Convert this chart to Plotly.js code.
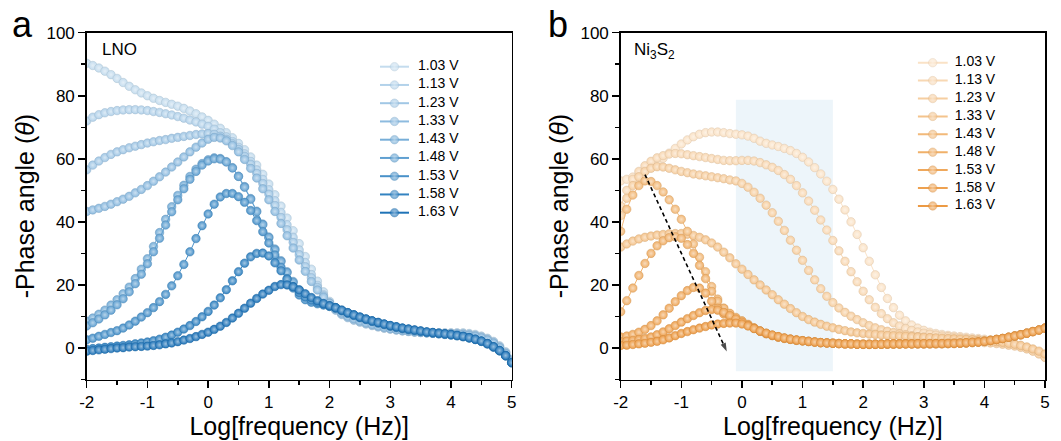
<!DOCTYPE html>
<html><head><meta charset="utf-8">
<script src="https://cdn.plot.ly/plotly-3.0.1.min.js"></script>
<style>html,body{margin:0;padding:0;background:#fff;} #chart{width:1061px;height:441px;}</style>
</head><body><div id="chart"></div>
<script>
// ---------------- data ----------------
const logFreq = [-2.0,-1.9,-1.8,-1.7,-1.6,-1.5,-1.4,-1.3,-1.2,-1.1,
 -1.0,-0.9,-0.8,-0.7,-0.6,-0.5,-0.4,-0.3,-0.2,-0.1,
 0.0,0.1,0.2,0.3,0.4,0.5,0.6,0.7,0.8,0.9,
 1.0,1.1,1.2,1.3,1.4,1.5,1.6,1.7,1.8,1.9,
 2.0,2.1,2.2,2.3,2.4,2.5,2.6,2.7,2.8,2.9,
 3.0,3.1,3.2,3.3,3.4,3.5,3.6,3.7,3.8,3.9,
 4.0,4.1,4.2,4.3,4.4,4.5,4.6,4.7,4.8,4.9,5.0];

const voltages = ['1.03 V','1.13 V','1.23 V','1.33 V','1.43 V','1.48 V','1.53 V','1.58 V','1.63 V'];

// LNO panel (a)
const lno103 = [90.3,89.6,88.8,87.8,86.7,85.5,84.2,83.0,81.9,80.9, 80.0,79.2,78.5,77.9,77.3,76.7,76.0,75.2,74.3,73.3, 72.2,71.0,69.7,68.3,66.7,64.9,62.9,60.6,58.0,55.1, 52.0,48.6,45.0,41.2,37.2,33.1,29.0,25.0,21.2,17.8, 14.8, 12.3,10.8,9.8,9.0,8.3,7.7,7.2,6.7,6.3,6.0, 5.7,5.5,5.3,5.1,5.0,4.9,4.8,4.8,4.8,4.8, 4.8,4.8,4.6,4.3,3.8,3.1,2.1,0.7,-1.2,-3.6];
const lno113 = [72.0,73.2,74.0,74.6,75.0,75.3,75.5,75.6,75.6,75.5, 75.3,75.0,74.7,74.3,73.9,73.4,72.9,72.3,71.7,71.0, 70.3,69.4,68.3,67.0,65.5,63.7,61.6,59.2,56.5,53.5, 50.2,46.7,43.0,39.1,35.1,31.1,27.1,23.3,19.9,16.9, 14.4, 12.0,10.6,9.6,8.8,8.2,7.6,7.1,6.7,6.3,6.0, 5.7,5.4,5.2,5.0,4.9,4.8,4.7,4.7,4.7,4.7, 4.7,4.6,4.4,4.1,3.6,2.9,1.9,0.5,-1.4,-3.8];
const lno123 = [56.5,58.0,59.3,60.4,61.4,62.2,62.9,63.5,64.0,64.5, 65.0,65.4,65.8,66.1,66.5,66.8,67.1,67.4,67.7,67.9, 68.0,67.8,67.2,66.2,64.8,63.0,60.8,58.3,55.4,52.2, 48.8,45.2,41.4,37.5,33.5,29.6,25.8,22.3,19.2,16.5, 14.2, 12.1,10.8,9.8,9.0,8.4,7.8,7.3,6.8,6.4,6.1, 5.8,5.5,5.3,5.1,4.9,4.8,4.7,4.6,4.6,4.6, 4.5,4.4,4.2,3.9,3.4,2.7,1.7,0.3,-1.6,-4.0];
const lno133 = [43.3,43.8,44.3,44.9,45.6,46.4,47.2,48.1,49.2,50.3, 51.5,52.9,54.3,55.8,57.4,59.0,60.6,62.2,63.7,65.0, 66.2,66.8,66.6,65.7,64.2,62.2,59.8,57.0,53.9,50.5, 47.0,43.3,39.5,35.6,31.7,27.9,24.3,21.1,18.4,16.1, 14.2, 12.4,11.1,10.1,9.3,8.6,8.0,7.5,7.0,6.6,6.2, 5.9,5.6,5.4,5.2,5.0,4.8,4.7,4.6,4.5,4.5, 4.4,4.3,4.0,3.7,3.2,2.5,1.5,0.1,-1.8,-4.2];
const lno143 = [8.5,9.5,10.7,12.0,13.6,15.3,17.2,19.3,22.0,25.0, 28.3,32.2,36.6,40.8,44.8,48.4,51.6,54.4,56.7,58.5, 59.7,60.3,60.1,59.1,57.2,54.5,51.2,47.4,43.4,39.3, 35.2,31.4,27.7,24.2,21.1,18.5,16.5,15.2,14.4,13.8, 13.2, 12.6,11.8,11.0,10.3,9.6,9.0,8.4,7.9,7.4,6.9, 6.5,6.1,5.8,5.5,5.2,4.9,4.7,4.5,4.3,4.1, 3.9,3.6,3.2,2.7,2.1,1.3,0.3,-0.9,-2.5,-4.7];
const lno148 = [7.0,8.0,9.2,10.5,12.0,13.7,15.6,17.8,20.4,23.4, 26.7,30.5,34.8,39.0,43.2,47.0,50.5,53.5,56.0,58.0, 59.3,60.0,59.9,59.0,57.1,54.4,51.0,47.2,43.2,39.1, 35.0,31.1,27.4,23.9,20.8,18.2,16.3,15.1,14.4,13.8, 13.2, 12.6,11.8,11.0,10.3,9.6,9.0,8.4,7.9,7.4,6.9, 6.5,6.1,5.8,5.5,5.2,4.9,4.7,4.5,4.3,4.1, 3.9,3.6,3.2,2.7,2.1,1.3,0.3,-0.9,-2.5,-4.7];
const lno153 = [2.6,3.1,3.7,4.3,4.9,5.5,6.3,7.3,8.5,9.8, 11.2,12.8,14.7,17.0,19.7,22.9,26.5,30.5,34.7,38.8, 42.5,45.6,47.9,49.0,49.0,48.0,46.2,43.6,40.4,36.9, 33.3,29.5,25.6,22.0,19.0,16.8,15.3,14.5,14.0,13.6, 13.2, 12.7,11.9,11.1,10.4,9.7,9.1,8.5,8.0,7.5,7.0, 6.6,6.2,5.9,5.6,5.3,5.0,4.8,4.6,4.4,4.2, 3.9,3.6,3.2,2.7,2.1,1.3,0.3,-0.9,-2.5,-4.7];
const lno158 = [-0.4,-0.2,0.0,0.2,0.4,0.6,0.8,1.0,1.3,1.6, 1.9,2.3,2.8,3.4,4.1,5.0,6.0,7.1,8.4,9.9, 11.6,13.6,15.9,18.5,21.3,24.2,26.9,28.9,30.0,30.1, 29.2,27.0,24.5,21.8,19.5,17.6,16.2,15.2,14.5,13.9, 13.4, 12.8,12.0,11.2,10.5,9.8,9.2,8.6,8.1,7.6,7.1, 6.7,6.3,6.0,5.7,5.4,5.1,4.9,4.7,4.5,4.3, 4.0,3.7,3.3,2.8,2.2,1.4,0.4,-0.8,-2.4,-4.6];
const lno163 = [-1.0,-0.8,-0.6,-0.4,-0.2,0.0,0.1,0.3,0.4,0.5, 0.6,0.8,1.0,1.3,1.6,2.0,2.5,3.0,3.6,4.3, 5.0,5.9,6.9,8.1,9.5,11.0,12.6,14.2,15.7,17.1, 18.3,19.5,20.1,20.0,19.4,18.4,17.2,16.0,15.0,14.1, 13.4, 12.8,12.0,11.2,10.5,9.8,9.2,8.6,8.1,7.6,7.1, 6.7,6.3,6.0,5.7,5.4,5.1,4.9,4.7,4.5,4.3, 4.0,3.7,3.3,2.8,2.2,1.4,0.4,-0.8,-2.4,-4.6];

// Ni3S2 panel (b)
const ni103 = [53.0,53.5,54.2,55.0,56.0,57.3,58.7,60.2,61.8,63.3, 64.7,66.0,67.0,67.8,68.3,68.5,68.5,68.3,68.0,67.8, 67.6,67.2,66.5,65.6,64.9,64.4,63.9,63.3,62.6,61.7, 60.5,59.0,57.2,55.2,52.9,50.3,47.2,43.8,40.0,36.0, 31.8, 27.5,23.2,19.2,15.7,12.8,10.4,8.6,7.3,6.3,5.6, 5.0,4.6,4.3,4.0,3.8,3.6,3.4,3.2,3.0,2.8, 2.6,2.3,2.0,1.7,1.3,0.8,0.2,-0.6,-1.5,-2.6];
const ni113 = [45.0,50.0,53.5,56.0,57.8,59.2,60.3,61.0,61.5,61.7, 61.6,61.3,61.0,60.7,60.4,60.1,59.8,59.5,59.4,59.4, 59.5,59.5,59.3,58.8,58.1,57.3,56.3,55.0,53.5,51.5, 49.2,46.6,43.7,40.6,37.4,34.1,30.8,27.5,24.2,21.0, 18.0, 15.3,12.9,10.9,9.3,8.0,7.0,6.2,5.6,5.1,4.7, 4.4,4.1,3.8,3.6,3.4,3.2,3.0,2.8,2.6,2.4, 2.2,2.0,1.7,1.4,1.0,0.5,-0.1,-0.8,-1.7,-2.8];
const ni123 = [42.0,47.5,51.5,54.3,56.0,57.0,57.5,57.4,57.0,56.5, 56.0,55.6,55.2,54.9,54.6,54.3,54.0,53.7,53.3,53.0, 52.2,51.0,49.4,47.5,45.3,42.9,40.2,37.3,34.2,31.0, 27.8,24.6,21.6,18.8,16.4,14.4,12.7,11.3,10.1,9.0, 8.0, 7.1,6.4,5.8,5.3,4.9,4.5,4.2,3.9,3.6,3.4, 3.2,3.0,2.8,2.6,2.4,2.2,2.0,1.9,1.8,1.7, 1.6,1.4,1.2,0.9,0.6,0.2,-0.3,-1.0,-1.9,-3.0];
const ni133 = [32.0,33.0,33.9,34.6,35.1,35.5,35.8,36.0,36.2,36.3, 36.3,36.1,35.7,35.1,34.3,33.3,32.0,30.4,28.6,26.7, 25.0,23.3,21.6,20.0,18.4,16.9,15.3,13.9,12.5,11.2, 10.0,9.0,8.2,7.5,6.9,6.4,5.9,5.5,5.1,4.8, 4.6, 4.4,4.3,4.1,4.0,3.9,3.8,3.7,3.6,3.5,3.4, 3.3,3.2,3.1,3.0,2.9,2.8,2.7,2.6,2.5,2.4, 2.2,2.0,1.8,1.5,1.2,0.8,0.3,-0.3,-1.0,-1.9];
const ni143 = [37.0,44.0,48.5,51.5,53.0,52.8,51.5,49.5,47.0,44.0, 40.8,37.0,33.0,28.8,24.2,19.5,15.5,12.6,10.7,9.4, 8.5,7.4,6.3,5.3,4.5,3.9,3.4,3.0,2.7,2.4, 2.2,2.0,1.8,1.7,1.6,1.5,1.4,1.3,1.3,1.2, 1.1, 1.1,1.2,1.2,1.2,1.2,1.3,1.3,1.3,1.3,1.3, 1.3,1.3,1.4,1.4,1.4,1.5,1.6,1.7,1.9,2.1, 2.4,2.7,3.0,3.4,3.8,4.2,4.7,5.2,5.7,6.3];
const ni148 = [11.5,15.0,19.0,23.0,26.8,30.0,32.4,34.0,35.0,35.3, 34.8,32.8,30.0,26.2,22.0,18.0,14.8,12.6,11.0,9.7, 8.6,7.5,6.4,5.4,4.6,4.0,3.5,3.1,2.8,2.5, 2.3,2.1,1.9,1.7,1.6,1.5,1.4,1.3,1.3,1.2, 1.2, 1.1,1.1,1.2,1.2,1.2,1.2,1.3,1.3,1.3,1.3, 1.3,1.3,1.3,1.4,1.4,1.5,1.6,1.7,1.9,2.1, 2.4,2.7,3.0,3.4,3.8,4.2,4.7,5.2,5.7,6.3];
const ni153 = [3.5,3.8,4.3,5.0,5.9,7.1,8.6,10.5,12.6,14.7, 16.6,18.2,19.2,19.0,17.4,14.8,12.6,10.8,9.6,8.7, 8.0,7.1,6.2,5.3,4.6,4.0,3.5,3.1,2.8,2.5, 2.3,2.1,1.9,1.7,1.6,1.5,1.4,1.3,1.3,1.2, 1.2, 1.2,1.2,1.2,1.2,1.3,1.3,1.3,1.3,1.3,1.3, 1.3,1.4,1.4,1.4,1.5,1.5,1.6,1.8,1.9,2.1, 2.4,2.7,3.0,3.4,3.8,4.2,4.7,5.2,5.7,6.3];
const ni158 = [2.0,2.2,2.4,2.7,3.0,3.5,4.2,5.1,6.1,7.1, 8.2,9.3,10.3,11.2,11.9,12.2,12.0,11.3,10.3,9.2, 8.2,7.2,6.2,5.3,4.6,4.0,3.5,3.1,2.8,2.5, 2.3,2.1,1.9,1.7,1.6,1.5,1.4,1.3,1.3,1.2, 1.2, 1.2,1.2,1.2,1.3,1.3,1.3,1.3,1.3,1.3,1.3, 1.4,1.4,1.4,1.4,1.5,1.5,1.6,1.8,1.9,2.1, 2.4,2.7,3.0,3.4,3.8,4.2,4.7,5.2,5.7,6.3];
const ni163 = [0.8,0.9,1.1,1.3,1.5,1.8,2.1,2.6,3.2,3.9, 4.6,5.2,5.8,6.3,6.8,7.3,7.6,7.8,7.9,7.9, 7.6,7.0,6.2,5.4,4.7,4.1,3.6,3.2,2.8,2.5, 2.3,2.1,1.9,1.7,1.6,1.5,1.4,1.3,1.3,1.2, 1.2, 1.2,1.2,1.2,1.3,1.3,1.3,1.3,1.3,1.4,1.4, 1.4,1.4,1.4,1.5,1.5,1.6,1.7,1.8,1.9,2.1, 2.4,2.7,3.0,3.4,3.8,4.2,4.7,5.2,5.7,6.3];

// ticks
const xTickVals = [-2,-1,0,1,2,3,4,5];
const xTickText = ['-2','-1','0','1','2','3','4','5'];
const yTickVals = [0,20,40,60,80,100];
const yTickText = ['0','20','40','60','80','100'];

// highlighted frequency window and trend arrow (panel b, data coordinates)
const bandLogF = [-0.1, 1.5];
const bandPhase = [-7.4, 78.7];
const arrowLogF = [-1.6, -0.25];
const arrowPhase = [55.0, -1.1];

// ---------------- styles ----------------
const FONT = 'Arial, "Liberation Sans", sans-serif';
const blues = ['#c4dcee','#b3d2ea','#a1c7e5','#8dbbdf','#77aed8','#60a0d1','#4991c9','#3383c1','#1f73b7'];
const oranges = ['#fae2c6','#f8d8b3','#f6cea0','#f4c38c','#f2b979','#f0b069','#efa85c','#eea150','#ec9a44'];
function mix(hex, f, target){
  const n = parseInt(hex.slice(1),16);
  const r = n>>16&255, g = n>>8&255, b = n&255;
  const m = c => Math.round(c + (target-c)*f);
  return 'rgb(' + m(r) + ',' + m(g) + ',' + m(b) + ')';
}
const MS = 8.5;

const lnoSeries = [lno103,lno113,lno123,lno133,lno143,lno148,lno153,lno158,lno163];
const niSeries = [ni103,ni113,ni123,ni133,ni143,ni148,ni153,ni158,ni163];

function beadMarker(c, size){
  return {color: c, size: size, line: {width: 0.5, color: mix(c, 0.12, 0)},
          gradient: {type: 'radial', color: mix(c, 0.55, 255)}};
}

const traces = [];
function addPanel(series, colors, xa, ya){
  series.forEach((ys, i) => {
    traces.push({
      x: logFreq, y: ys, xaxis: xa, yaxis: ya, type: 'scatter', mode: 'lines+markers',
      name: voltages[i], showlegend: false, hoverinfo: 'skip',
      line: {color: colors[i], width: 1},
      marker: beadMarker(colors[i], MS)
    });
  });
}
addPanel(lnoSeries, blues, 'x', 'y');
addPanel(niSeries, oranges, 'x2', 'y2');

// trend arrow (dashed) in panel b
traces.push({
  x: arrowLogF, y: arrowPhase, xaxis: 'x2', yaxis: 'y2', type: 'scatter', mode: 'lines+markers',
  showlegend: false, hoverinfo: 'skip',
  line: {color: '#000', width: 1.6, dash: '4px,3px'},
  marker: {symbol: 'arrow', size: [0, 9], angleref: 'previous', color: '#000', line: {width: 0}}
});

// legend blocks drawn on their own pixel-unit axes
const rowIdx = [0,1,2,3,4,5,6,7,8];
function addLegend(colors, xa, ya, lineLen, textX){
  rowIdx.forEach(i => {
    traces.push({
      x: [0, lineLen/2, lineLen], y: [i, i, i], xaxis: xa, yaxis: ya, type: 'scatter',
      mode: 'lines+markers', showlegend: false, hoverinfo: 'skip',
      line: {color: colors[i], width: 2},
      marker: Object.assign(beadMarker(colors[i], [0, MS, 0]))
    });
  });
  traces.push({
    x: rowIdx.map(() => textX), y: rowIdx, text: voltages, xaxis: xa, yaxis: ya,
    type: 'scatter', mode: 'text', textposition: 'middle right', showlegend: false,
    hoverinfo: 'skip', textfont: {family: FONT, size: 14, color: '#000'}
  });
}
addLegend(blues, 'x3', 'y3', 29, 38);
addLegend(oranges, 'x4', 'y4', 30, 37);

const W = 1061, H = 441;
const px = v => v / W, py = v => 1 - v / H;

function mainX(dom, anchor){
  return {
    domain: dom, anchor: anchor, range: [-2, 5], tickvals: xTickVals, ticktext: xTickText,
    showline: true, linecolor: '#000', linewidth: 1.5, mirror: true,
    ticks: 'outside', ticklen: 7, tickwidth: 1.5, tickcolor: '#000',
    minor: {ticks: 'outside', ticklen: 4, tickwidth: 1.5, tickcolor: '#000', tickvals: [-1.5,-0.5,0.5,1.5,2.5,3.5,4.5]},
    showgrid: false, zeroline: false, fixedrange: true,
    tickfont: {family: FONT, size: 17, color: '#000'},
    title: {text: 'Log[frequency (Hz)]', font: {family: FONT, size: 25, color: '#000'}, standoff: 3}
  };
}
function mainY(dom, anchor){
  return {
    domain: dom, anchor: anchor, range: [-10, 100], tickvals: yTickVals, ticktext: yTickText,
    showline: true, linecolor: '#000', linewidth: 1.5, mirror: true,
    ticks: 'outside', ticklen: 7, tickwidth: 1.5, tickcolor: '#000',
    minor: {ticks: 'outside', ticklen: 4, tickwidth: 1.5, tickcolor: '#000', tickvals: [-10,10,30,50,70,90]},
    showgrid: false, zeroline: false, fixedrange: true,
    tickfont: {family: FONT, size: 17, color: '#000'},
    title: {text: '-Phase angle (<i>θ</i>)', font: {family: FONT, size: 25, color: '#000'}, standoff: 4}
  };
}
const hidden = (dom, range, anchor) => ({domain: dom, range: range, anchor: anchor, visible: false, fixedrange: true});

const yDom = [py(379.5), py(32.7)];
const layout = {
  width: W, height: H, margin: {l: 0, r: 0, t: 0, b: 0},
  paper_bgcolor: '#fff', plot_bgcolor: 'rgba(0,0,0,0)', showlegend: false,
  font: {family: FONT, color: '#000'},
  xaxis: mainX([px(86.7), px(511.7)], 'y'),
  yaxis: mainY(yDom, 'x'),
  xaxis2: mainX([px(620.7), px(1045)], 'y2'),
  yaxis2: mainY(yDom, 'x2'),
  xaxis3: hidden([px(380), px(480)], [0, 100], 'y3'),
  yaxis3: hidden([py(222), py(57)], [(222-66.7)/18.25, (57-66.7)/18.25], 'x3'),
  xaxis4: hidden([px(917.7), px(1017.7)], [0, 100], 'y4'),
  yaxis4: hidden([py(218), py(53)], [(218-62.7)/17.9, (53-62.7)/17.9], 'x4'),
  shapes: [
    {type: 'rect', xref: 'x2', yref: 'y2', x0: bandLogF[0], x1: bandLogF[1], y0: bandPhase[0], y1: bandPhase[1],
     fillcolor: '#edf5fa', line: {width: 0}, layer: 'below'}
  ],
  annotations: [
    {xref: 'paper', yref: 'paper', x: px(10), y: py(25), xanchor: 'left', yanchor: 'middle', showarrow: false,
     text: 'a', font: {family: FONT, size: 36, color: '#000'}},
    {xref: 'paper', yref: 'paper', x: px(546), y: py(25), xanchor: 'left', yanchor: 'middle', showarrow: false,
     text: 'b', font: {family: FONT, size: 36, color: '#000'}},
    {xref: 'paper', yref: 'paper', x: px(99.5), y: py(50), xanchor: 'left', yanchor: 'middle', showarrow: false,
     text: 'LNO', font: {family: FONT, size: 17, color: '#000'}},
    {xref: 'paper', yref: 'paper', x: px(631.5), y: py(51), xanchor: 'left', yanchor: 'middle', showarrow: false,
     text: 'Ni<sub>3</sub>S<sub>2</sub>', font: {family: FONT, size: 17, color: '#000'}}
  ]
};

Plotly.newPlot('chart', traces, layout, {displayModeBar: false, staticPlot: true});
</script></body></html>
